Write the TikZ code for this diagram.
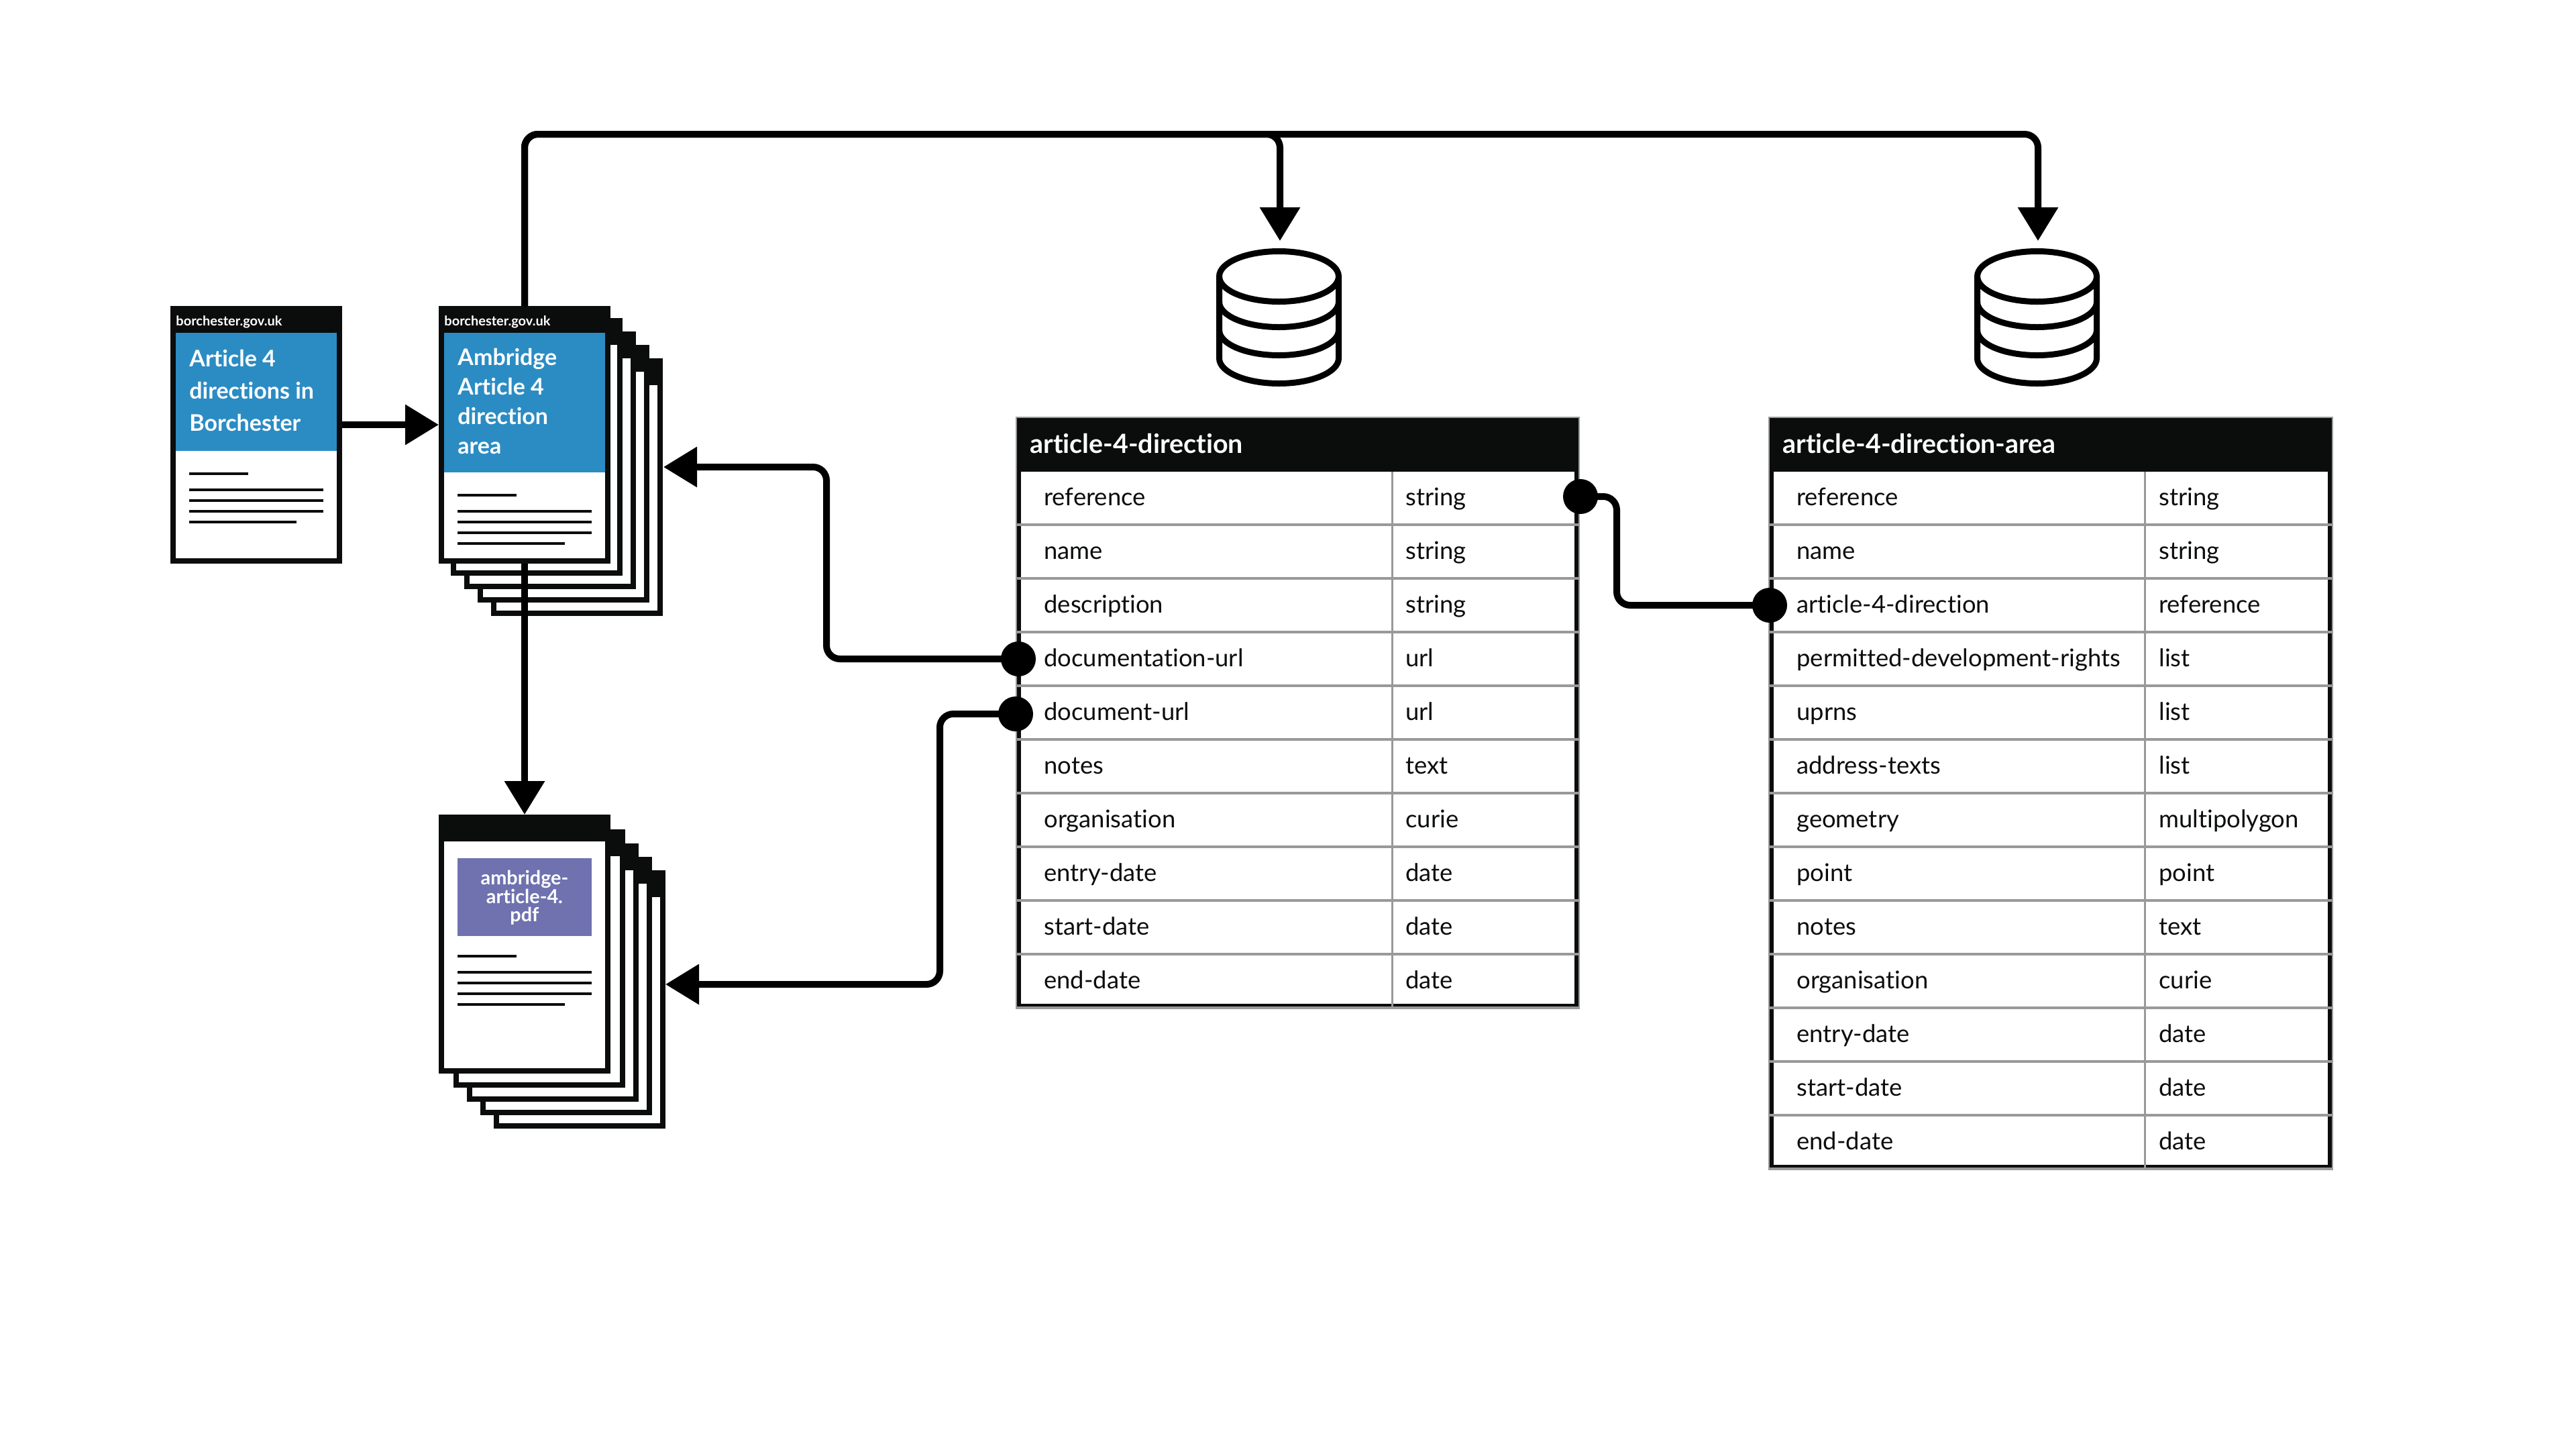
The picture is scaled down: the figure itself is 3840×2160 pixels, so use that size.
\documentclass[tikz,border=0pt]{standalone}
\usepackage{fontspec}
\setmainfont{Lato}[Ligatures=NoCommon]
\usetikzlibrary{arrows.meta,calc}
\definecolor{ink}{HTML}{0B0C0C}
\definecolor{gdsblue}{HTML}{2B8CC4}
\definecolor{pdfpurple}{HTML}{6F72AF}
\definecolor{rule}{HTML}{999999}
\newcommand{\fsz}[1]{\fontsize{#1}{#1}\selectfont}
\tikzset{
  sheet/.style={draw=none,fill=ink,rectangle,anchor=north west,inner sep=0pt,outer sep=0pt},
  paper/.style={fill=white,draw=none},
  textline/.style={draw=ink,line width=2pt},
  conn/.style={draw=black,line width=5pt,rounded corners=10pt},
  flow/.style={conn,-{Triangle[length=25pt,width=29pt]}},
  dbline/.style={draw=black,line width=4.5pt,line join=round},
  dotend/.style={circle,fill=black,draw=none,inner sep=0pt,outer sep=0pt,minimum size=26pt},
  rowtext/.style={anchor=base west,inner sep=0pt,text=ink,font=\fsz{18.2}},
  headtext/.style={anchor=base west,inner sep=0pt,text=white,font=\fsz{19.7}\bfseries},
  sitetext/.style={anchor=base west,inner sep=0pt,text=white,font=\fsz{10}\bfseries},
  titletext/.style={anchor=north west,inner sep=0pt,text=white,align=left},
}
% name x y w h
\newcommand{\docsheet}[5]{%
  \node[sheet,minimum width=#4*0.5pt,minimum height=#5*0.5pt] (#1) at (#2,#3) {};
  \fill[paper] ({#2+8},{#3+40}) rectangle ({#2+#4-8},{#3+#5-8});
}
% x of rule left, y list: short, then 3 full, 1 long
\newcommand{\textrules}[6]{%
  \draw[textline] (#1,#2) -- ({#1+88},#2);
  \draw[textline] (#1,#3) -- ({#1+200},#3);
  \draw[textline] (#1,#4) -- ({#1+200},#4);
  \draw[textline] (#1,#5) -- ({#1+200},#5);
  \draw[textline] (#1,#6) -- ({#1+160},#6);
}
% database icon centred on x
\newcommand{\dbicon}[1]{%
  \draw[dbline,fill=white] ({#1-89},412) -- ({#1-89},534) arc[start angle=180,end angle=0,x radius=89,y radius=37.5] -- ({#1+89},412);
  \draw[dbline] (#1,412) ellipse[x radius=89,y radius=37.5];
  \draw[dbline] ({#1-89},450) arc[start angle=180,end angle=0,x radius=89,y radius=37.5];
  \draw[dbline] ({#1-89},492) arc[start angle=180,end angle=0,x radius=89,y radius=37.5];
}
% name left right nrows
\newcommand{\tableframe}[4]{%
  \pgfmathsetmacro{\tbot}{703+80*#4}
  \node[sheet,fill=white,minimum width={(#3-#2)*0.5pt},minimum height={(\tbot-622)*0.5pt}] (#1) at (#2,622) {};
  \draw[ink,line width=3.5pt] ({#2+3.5},703) -- ({#2+3.5},{\tbot-3.5}) -- ({#3-3.5},{\tbot-3.5}) -- ({#3-3.5},703);
  \fill[ink] (#2,622) rectangle (#3,703);
  \draw[rule,line width=1.5pt] ({#2+560},703) -- ({#2+560},\tbot);
  \foreach \k in {1,...,#4} {\draw[rule,line width=2pt] (#2,{703+80*\k-1}) -- (#3,{703+80*\k-1});}
  \draw[rule,line width=0.75pt] (#2,622) rectangle (#3,\tbot);
}
\begin{document}
\begin{tikzpicture}[x=0.5pt,y=-0.5pt]
\useasboundingbox (0,0) rectangle (3840,2160);
\fill[white] (0,0) rectangle (3840,2160);

% site page
\docsheet{siteA}{254}{456}{256}{384}
\fill[gdsblue] (262,496) rectangle (502,672);
\node[sitetext] (siteAurl) at (262,485) {borchester.gov.uk};
\node[titletext,font={\fontsize{17}{24}\selectfont\bfseries}] (siteAtitle) at (282,521) {Article 4\\directions in\\Borchester};
\textrules{282}{706}{730}{746}{762}{778}

% stack of area pages
\docsheet{areaD}{732}{534}{256}{384}
\docsheet{areaC}{712}{514}{256}{384}
\docsheet{areaB}{692}{494}{256}{384}
\docsheet{areaS}{672}{474}{256}{384}
\docsheet{areaA}{654}{456}{256}{384}
\fill[gdsblue] (662,496) rectangle (902,704);
\node[sitetext] (areaAurl) at (662,485) {borchester.gov.uk};
\node[titletext,font={\fontsize{17}{22}\selectfont\bfseries}] (areaAtitle) at (682,519) {Ambridge\\Article 4\\direction\\area};
\textrules{682}{738}{762}{778}{794}{810}

% stack of pdf pages
\docsheet{pdfD}{736}{1297}{256}{385}
\docsheet{pdfC}{716}{1277}{256}{385}
\docsheet{pdfB}{696}{1257}{256}{385}
\docsheet{pdfS}{676}{1236}{256}{385}
\docsheet{pdfA}{654}{1214}{256}{386}
\node[sheet,fill=pdfpurple,minimum width=100pt,minimum height=58pt] (pdfLabelBox) at (682,1279) {};
\node[inner sep=0pt,text=white,align=center,font={\fontsize{14.4}{13.8}\selectfont\bfseries}] (pdfLabel) at (782,1338) {ambridge-\\article-4.\\pdf};
\textrules{682}{1425}{1449}{1465}{1481}{1497}

% databases
\dbicon{1906.5}
\dbicon{3036.5}
\coordinate (dbAtip) at (1908,359);
\coordinate (dbBtip) at (3038,359);

% tables
\tableframe{tblA}{1515}{2354}{10}
\node[headtext] (tblAhead) at (1535,675) {article-4-direction};
\foreach \i/\a/\b in {1/reference/string,2/name/string,3/description/string,4/documentation-url/url,5/document-url/url,6/notes/text,7/organisation/curie,8/entry-date/date,9/start-date/date,10/end-date/date} {
  \node[rowtext] (tblAf\i) at (1556,{673+80*\i}) {\a};
  \node[rowtext] (tblAt\i) at (2095,{673+80*\i}) {\b};
}
\tableframe{tblB}{2637}{3477}{13}
\node[headtext] (tblBhead) at (2657,675) {article-4-direction-area};
\foreach \i/\a/\b in {1/reference/string,2/name/string,3/article-4-direction/reference,4/permitted-development-rights/list,5/uprns/list,6/address-texts/list,7/geometry/multipolygon,8/point/point,9/notes/text,10/organisation/curie,11/entry-date/date,12/start-date/date,13/end-date/date} {
  \node[rowtext] (tblBf\i) at (2678,{673+80*\i}) {\a};
  \node[rowtext] (tblBt\i) at (3218,{673+80*\i}) {\b};
}

% connector ends
\node[dotend] (dotDocumentation) at (1518,982) {};
\node[dotend] (dotDocument) at (1514,1064) {};
\node[dotend] (dotRef) at (2356,740) {};
\node[dotend] (dotFk) at (2638,902) {};
\coordinate (areaTip) at (989,696);
\coordinate (pdfTip) at (992,1467);
\coordinate (siteOut) at (siteA.east |- 0,633);
\coordinate (areaIn) at (areaA.west |- 0,633);

% connectors
\draw[flow] (siteOut) -- (areaIn);
\draw[flow] (areaA.south) -- (pdfA.north);
\draw[flow] (areaA.north) -- (782,200) -- (1908,200) -- (dbAtip);
\draw[flow] (areaA.north) -- (782,200) -- (3038,200) -- (dbBtip);
\draw[flow] (dotDocumentation.center) -- (1232,982) -- (1232,696) -- (areaTip);
\draw[flow] (dotDocument.center) -- (1401,1064) -- (1401,1467) -- (pdfTip);
\draw[conn] (dotRef.center) -- (2410,740) -- (2410,902) -- (dotFk.center);
\end{tikzpicture}
\end{document}
